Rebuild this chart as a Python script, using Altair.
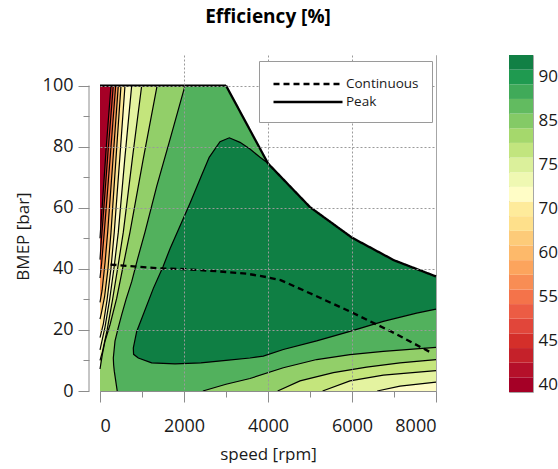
import altair as alt
import pandas as pd

FONT = "Open Sans"
SPEED_MAX = 8000
BMEP_TOP = 100
BMEP_VIEW = 110

# ---- peak (full load) curve and continuous curve ----
peak_speed = [0, 3000, 4000, 5000, 6000, 7000, 8000]
peak_bmep = [100, 100, 74.5, 60.2, 50.2, 42.8, 37.5]
cont_speed = [250, 800, 1500, 2000, 2800, 3500, 4000, 4300, 5000, 6000, 7000, 7850]
cont_bmep = [41.4, 40.8, 40.1, 39.9, 39.2, 38.4, 37.2, 36.3, 32.0, 25.7, 19.0, 12.8]

# ---- left-side iso-efficiency lines (from top edge down to left/bottom edge) ----
l1_speed = [262, 150, 60, 0]
l1_bmep = [100, 80, 62, 50]
l2_speed = [317, 190, 70, 30, 0]
l2_bmep = [100, 78, 56, 49, 43]
l3_speed = [374, 240, 102, 40, 0]
l3_bmep = [100, 76, 52, 42, 37]
l4_speed = [436, 310, 183, 120, 50, 0]
l4_bmep = [100, 76, 52, 42, 33, 29]
l5_speed = [500, 380, 262, 190, 110, 40, 0]
l5_bmep = [100, 76, 52, 40, 31, 26, 23.5]
l6_speed = [595, 470, 340, 260, 170, 80, 0]
l6_bmep = [100, 76, 52, 40, 30, 22, 17.5]
l7_speed = [755, 590, 436, 340, 230, 120, 40, 0]
l7_bmep = [100, 76, 52, 41, 30, 21, 16, 13.5]
l8_speed = [993, 770, 555, 430, 300, 170, 60, 0]
l8_bmep = [100, 76, 52, 41, 30, 20, 13, 10]
l9_speed = [1360, 1030, 714, 555, 398, 238, 119, 55, 0]
l9_bmep = [100, 76, 52, 41.2, 30.4, 21.7, 16.3, 11.9, 7.2]
l10_speed = [2024, 1667, 1350, 1071, 900, 755, 620, 517, 430, 357, 317, 325, 340, 398, 410]
l10_bmep = [100, 82.4, 67, 52, 43.5, 35.8, 30, 25, 20.5, 16.3, 10.8, 8.5, 6.5, 1.1, 0]

# ---- best-efficiency island boundary ----
blob_speed = [8000, 7540, 6746, 5952, 5159, 4365, 3888, 3571, 3000, 2400, 1786, 1230, 912, 800, 793,
              874, 1270, 1500, 1667, 2143, 2400, 2600, 2857, 3079, 3333, 3571, 3810, 4024]
blob_bmep = [26.8, 25.5, 22.8, 19.5, 16.4, 13.6, 11.4, 10.8, 10.0, 9.2, 8.9, 9.2, 10.8, 12.0, 14.1,
             19.5, 33.6, 40.7, 46.6, 61.5, 70.0, 76.5, 81.6, 82.9, 81.4, 79.2, 76.5, 74.3]

# ---- bottom-right iso-efficiency lines ----
a_speed = [2450, 3000, 3571, 4365, 5159, 5952, 6746, 8000]
a_bmep = [0, 2.2, 4.1, 7.6, 10.3, 11.9, 13.0, 14.3]
b_speed = [4230, 4762, 5556, 6349, 7143, 8000]
b_bmep = [0, 3.3, 6.0, 7.8, 9.2, 10.3]
c_speed = [5300, 5952, 6746, 8000]
c_bmep = [0, 3.3, 5.2, 6.7]
d_speed = [6600, 7143, 8000]
d_bmep = [0, 1.6, 2.9]

# region colours, lowest (left edge) to highest
region_colors = ["#a50026", "#d3302b", "#f0653f", "#f99a56", "#fdc675", "#fee796",
                 "#fdfcc4", "#e4f3a0", "#c4e57c", "#92cf69", "#52b15d"]
island_color = "#0f7f44"

# colour bar
cb_levels = [39.0, 41.38, 43.76, 46.14, 48.52, 50.9, 53.28, 55.66, 58.04, 60.42, 62.8, 65.18,
             67.56, 69.94, 72.32, 74.7, 77.08, 79.46, 81.84, 84.22, 86.6, 88.98, 91.36, 93.74]
cb_colors = ["#a50026", "#b5102a", "#c5212a", "#d42f2a", "#e1463a", "#ec5c44", "#f4734a",
             "#f88d54", "#fca45d", "#fdb96a", "#fdcb79", "#fee08b", "#feeb9b", "#fffdc6",
             "#eff8b2", "#dbf09b", "#c2e57e", "#a5d86c", "#84ca66", "#62bb60", "#40aa59",
             "#1f9a50", "#118045"]
cb_ticks = [40.19, 47.33, 54.47, 61.61, 68.75, 75.89, 83.03, 90.17]

x_ticks = [0, 1000, 2000, 3000, 4000, 5000, 6000, 7000, 8000]
y_ticks = [0, 10, 20, 30, 40, 50, 60, 70, 80, 90, 100]
y_axis_span = [0, 100]

AX_GRAY = "#8c8c8c"

x_enc = alt.X(
    "speed:Q",
    scale=alt.Scale(domain=[0, SPEED_MAX], nice=False, zero=False),
    axis=alt.Axis(
        values=x_ticks, format="d", title="speed [rpm]",
        labelExpr="datum.value % 2000 == 0 ? datum.label : ''",
        tickSize={"condition": {"test": "datum.value % 2000 == 0", "value": 11}, "value": 6},
        gridOpacity={"condition": {"test": "datum.value % 2000 == 0 && datum.value > 0 && datum.value < 8000", "value": 1}, "value": 0},
        grid=True, gridColor="#9a9a9a", gridDash=[2, 2], gridWidth=1,
        domainColor=AX_GRAY, tickColor=AX_GRAY, labelPadding=15, titlePadding=11,
        labelFontSize=18, titleFontSize=17, labelFont=FONT, titleFont=FONT,
        labelColor="#1a1a1a", titleColor="#1a1a1a", titleFontWeight="normal", zindex=1,
    ),
)
y_enc = alt.Y(
    "bmep:Q",
    scale=alt.Scale(domain=[0, BMEP_VIEW], nice=False, zero=False),
    axis=alt.Axis(
        values=y_ticks, format="d", title="BMEP [bar]", offset=11, domain=False,
        labelExpr="datum.value % 20 == 0 ? datum.label : ''",
        tickSize={"condition": {"test": "datum.value % 20 == 0", "value": 11}, "value": 6},
        gridOpacity={"condition": {"test": "datum.value % 20 == 0 && datum.value > 0", "value": 1}, "value": 0},
        grid=True, gridColor="#9a9a9a", gridDash=[2, 2], gridWidth=1,
        tickColor=AX_GRAY, labelPadding=5, titlePadding=10, titleY=181,
        labelFontSize=18, titleFontSize=17, labelFont=FONT, titleFont=FONT,
        labelColor="#1a1a1a", titleColor="#1a1a1a", titleFontWeight="normal", zindex=1,
    ),
)
order_enc = alt.Order("i:Q")


def frame(sp, bm):
    return pd.DataFrame({"speed": sp, "bmep": bm, "i": list(range(len(sp)))})


def polygon(sp, bm, color):
    return alt.Chart(frame(sp, bm)).mark_line(
        fill=color, strokeWidth=0, strokeOpacity=0, interpolate="linear"
    ).encode(x=x_enc, y=y_enc, order=order_enc)


def contour(sp, bm, width=1.2):
    return alt.Chart(frame(sp, bm)).mark_line(
        color="black", strokeWidth=width, interpolate="linear"
    ).encode(x=x_enc, y=y_enc, order=order_enc)


def right_of(sp, bm):
    xs, ys = list(sp), list(bm)
    if xs[-1] == 0 and ys[-1] > 0:
        xs.append(0)
        ys.append(0)
    xs += [SPEED_MAX, SPEED_MAX]
    ys += [0, BMEP_TOP]
    return xs, ys


def below(sp, bm):
    return list(sp) + [SPEED_MAX], list(bm) + [0]


left_lines = [(l1_speed, l1_bmep), (l2_speed, l2_bmep), (l3_speed, l3_bmep), (l4_speed, l4_bmep),
              (l5_speed, l5_bmep), (l6_speed, l6_bmep), (l7_speed, l7_bmep), (l8_speed, l8_bmep),
              (l9_speed, l9_bmep), (l10_speed, l10_bmep)]
bottom_lines = [(a_speed, a_bmep, region_colors[9]), (b_speed, b_bmep, region_colors[8]),
                (c_speed, c_bmep, region_colors[7]), (d_speed, d_bmep, region_colors[6])]

layers = []
# operating envelope
layers.append(polygon([0, 0] + peak_speed[1:] + [SPEED_MAX], [0] + peak_bmep + [0], region_colors[0]))
for k, (sp, bm) in enumerate(left_lines):
    xs, ys = right_of(sp, bm)
    layers.append(polygon(xs, ys, region_colors[k + 1]))
# island
isl_x = blob_speed + [s for s in peak_speed if s > blob_speed[-1]]
isl_y = blob_bmep + [b for s, b in zip(peak_speed, peak_bmep) if s > blob_speed[-1]]
layers.append(polygon(isl_x, isl_y, island_color))
for sp, bm, col in bottom_lines:
    xs, ys = below(sp, bm)
    layers.append(polygon(xs, ys, col))
# white mask above the envelope
layers.append(polygon(peak_speed + [SPEED_MAX, 0], peak_bmep + [BMEP_VIEW, BMEP_VIEW], "white"))
# contour lines
for sp, bm in left_lines:
    layers.append(contour(sp, bm))
layers.append(contour(blob_speed, blob_bmep))
for sp, bm, _ in bottom_lines:
    layers.append(contour(sp, bm))

# peak / continuous lines with legend
curves = pd.concat([
    frame(cont_speed, cont_bmep).assign(series="Continuous"),
    frame(peak_speed, peak_bmep).assign(series="Peak"),
])
layers.append(
    alt.Chart(curves).mark_line(color="black", strokeWidth=2.3).encode(
        x=x_enc, y=y_enc, order=order_enc, detail="series:N",
        strokeDash=alt.StrokeDash(
            "series:N",
            scale=alt.Scale(domain=["Continuous", "Peak"], range=[[6, 4], [1, 0]]),
            legend=alt.Legend(
                orient="none", legendX=159, legendY=6, title=None,
                symbolType="M-1,0H7.12", symbolSize=289, symbolStrokeWidth=2.3,
                symbolStrokeColor="black", symbolFillColor="transparent",
                labelFont=FONT, labelFontSize=13.5,
                labelColor="#1a1a1a", labelOffset=54, padding=13, rowPadding=1,
                fillColor="white", strokeColor="#9a9a9a",
            ),
        ),
    )
)
# y axis line (0..100 only)
layers.append(
    alt.Chart(pd.DataFrame({"bmep": [y_axis_span[0]], "bmep2": [y_axis_span[1]]})).mark_rule(
        color=AX_GRAY, strokeWidth=1
    ).encode(x=alt.value(-11), y=y_enc, y2="bmep2:Q")
)

main = alt.layer(*layers).properties(
    width=336, height=336,
    title=alt.Title("Efficiency [%]", font=FONT, fontSize=19, fontWeight="bold",
                    color="black", anchor="middle", frame="group", offset=28),
)

cb_df = pd.DataFrame({"lo": cb_levels[:-1], "hi": cb_levels[1:], "color": cb_colors})
colorbar = alt.Chart(cb_df).mark_rect(strokeWidth=0).encode(
    x=alt.value(0), x2=alt.value(24),
    y=alt.Y("lo:Q", scale=alt.Scale(domain=[cb_levels[0], cb_levels[-1]], nice=False, zero=False),
            axis=alt.Axis(orient="right", values=cb_ticks, title=None, ticks=False, domain=False,
                          grid=False, labelPadding=5, labelFont=FONT, labelFontSize=17,
                          labelColor="#1a1a1a",
                          labelExpr="format(round(datum.value / 5) * 5, 'd')")),
    y2="hi:Q",
    color=alt.Color("color:N", scale=None),
).properties(width=24, height=337)

chart = alt.hconcat(main, colorbar, spacing=66).configure_view(
    stroke="#a6a6a6", strokeWidth=1
).properties(padding={"left": 13, "top": 7, "right": 0, "bottom": 0}, background="white")

chart.save("out.html", embed_options={"renderer": "svg", "actions": False})
